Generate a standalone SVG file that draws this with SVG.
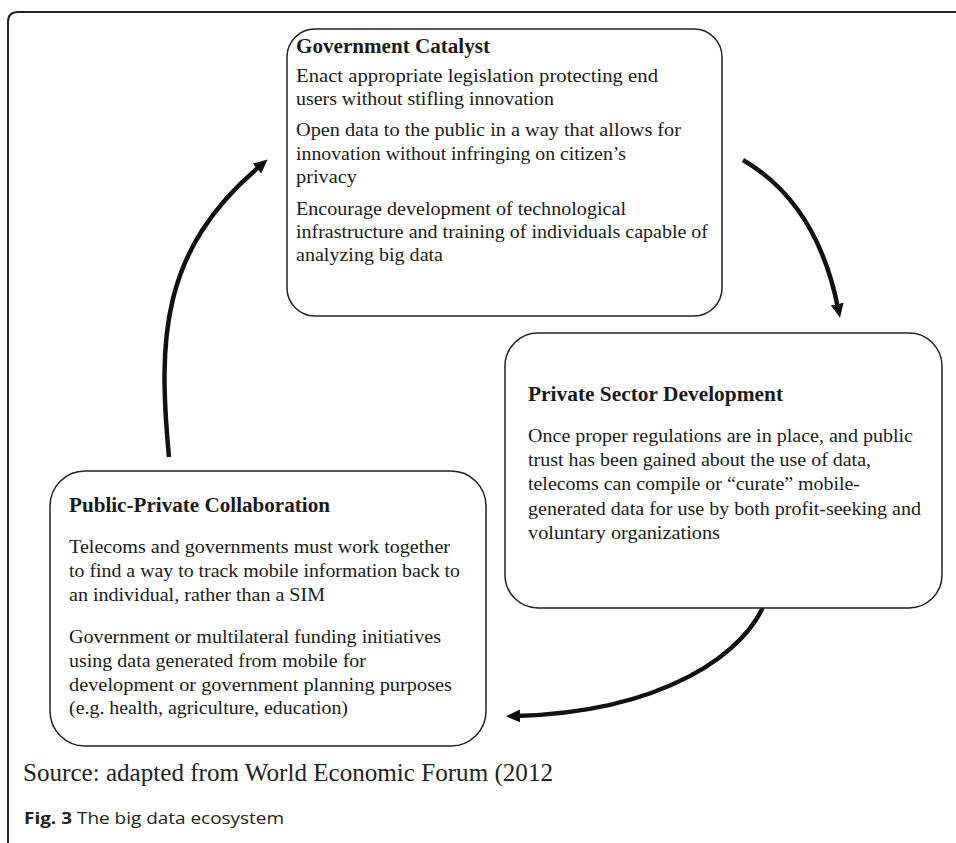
<svg xmlns="http://www.w3.org/2000/svg" width="956" height="843" viewBox="0 0 956 843">
<style>
.box{fill:#fff;stroke:#222;stroke-width:1.5}
.frame{fill:none;stroke:#222;stroke-width:2}
.t{font-family:"Liberation Serif","Times New Roman",serif;font-size:19px;fill:#1a1a1a}
.h{font-family:"Liberation Serif","Times New Roman",serif;font-size:20px;font-weight:bold;fill:#1a1a1a}
.arr{fill:none;stroke:#111;stroke-width:4.5;marker-end:url(#ah)}
.src{font-family:"Liberation Serif","Times New Roman",serif;font-size:25px;fill:#222}
.cap{font-family:"Open Sans","Noto Sans",sans-serif;font-size:16px;fill:#222}
</style>
<defs>
<marker id="ah" markerUnits="userSpaceOnUse" markerWidth="20" markerHeight="16" refX="4" refY="0" viewBox="0 -8 20 16" orient="auto">
<path d="M0,-6.5 L14,0 L0,6.5 z" fill="#111"/>
</marker>
</defs>
<rect width="956" height="843" fill="#fff"/>
<path class="frame" d="M8,843 L8,22 Q8,12 18,12 L956,12"/>

<g id="connectors">
<path class="arr" d="M169,457 C158,340 160,250 260,166"/>
<path class="arr" d="M743,160 Q817,203 838,308"/>
<path class="arr" d="M768,594 C750,655 660,712 516,716"/>
</g>

<g id="government-catalyst">
<rect class="box" x="287" y="29" width="435" height="287" rx="28"/>
<text class="h" x="296" y="53" textLength="194" lengthAdjust="spacingAndGlyphs">Government Catalyst</text>
<text class="t" x="296" y="82" textLength="362" lengthAdjust="spacingAndGlyphs">Enact appropriate legislation protecting end</text>
<text class="t" x="296" y="105" textLength="258" lengthAdjust="spacingAndGlyphs">users without stifling innovation</text>
<text class="t" x="296" y="136" textLength="385" lengthAdjust="spacingAndGlyphs">Open data to the public in a way that allows for</text>
<text class="t" x="296" y="160" textLength="330" lengthAdjust="spacingAndGlyphs">innovation without infringing on citizen’s</text>
<text class="t" x="296" y="183" textLength="61" lengthAdjust="spacingAndGlyphs">privacy</text>
<text class="t" x="296" y="215" textLength="330" lengthAdjust="spacingAndGlyphs">Encourage development of technological</text>
<text class="t" x="296" y="238" textLength="412" lengthAdjust="spacingAndGlyphs">infrastructure and training of individuals capable of</text>
<text class="t" x="296" y="261" textLength="147" lengthAdjust="spacingAndGlyphs">analyzing big data</text>
</g>

<g id="private-sector-development">
<rect class="box" x="505" y="333" width="437" height="275" rx="33"/>
<text class="h" x="528" y="401" textLength="255" lengthAdjust="spacingAndGlyphs">Private Sector Development</text>
<text class="t" x="528" y="442" textLength="385" lengthAdjust="spacingAndGlyphs">Once proper regulations are in place, and public</text>
<text class="t" x="528" y="466" textLength="343" lengthAdjust="spacingAndGlyphs">trust has been gained about the use of data,</text>
<text class="t" x="528" y="490" textLength="332" lengthAdjust="spacingAndGlyphs">telecoms can compile or “curate” mobile-</text>
<text class="t" x="528" y="515" textLength="393" lengthAdjust="spacingAndGlyphs">generated data for use by both profit-seeking and</text>
<text class="t" x="528" y="539" textLength="192" lengthAdjust="spacingAndGlyphs">voluntary organizations</text>
</g>

<g id="public-private-collaboration">
<rect class="box" x="50" y="471" width="436" height="275" rx="35"/>
<text class="h" x="69" y="512" textLength="261" lengthAdjust="spacingAndGlyphs">Public-Private Collaboration</text>
<text class="t" x="69" y="553" textLength="381" lengthAdjust="spacingAndGlyphs">Telecoms and governments must work together</text>
<text class="t" x="69" y="577" textLength="391" lengthAdjust="spacingAndGlyphs">to find a way to track mobile information back to</text>
<text class="t" x="69" y="601" textLength="256" lengthAdjust="spacingAndGlyphs">an individual, rather than a SIM</text>
<text class="t" x="69" y="643" textLength="372" lengthAdjust="spacingAndGlyphs">Government or multilateral funding initiatives</text>
<text class="t" x="69" y="667" textLength="297" lengthAdjust="spacingAndGlyphs">using data generated from mobile for</text>
<text class="t" x="69" y="691" textLength="383" lengthAdjust="spacingAndGlyphs">development or government planning purposes</text>
<text class="t" x="69" y="714" textLength="279" lengthAdjust="spacingAndGlyphs">(e.g. health, agriculture, education)</text>
</g>

<text class="src" x="23" y="781" textLength="530" lengthAdjust="spacingAndGlyphs">Source: adapted from World Economic Forum (2012</text>
<text class="cap" x="24" y="824" textLength="260" lengthAdjust="spacingAndGlyphs"><tspan font-weight="bold">Fig. 3</tspan> The big data ecosystem</text>
</svg>
